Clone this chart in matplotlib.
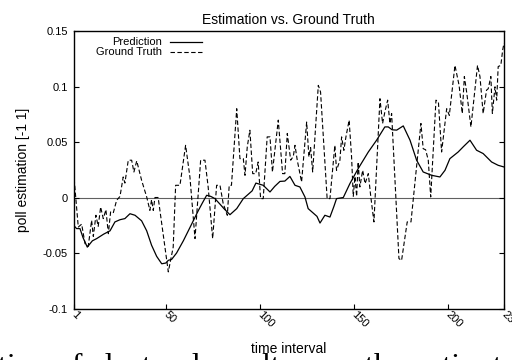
import matplotlib
matplotlib.use("Agg")
import matplotlib.pyplot as plt

plt.rcParams['font.family'] = ['Liberation Sans', 'DejaVu Sans']

# model output (smooth curve)
pred_t = [1, 2.6, 4.4, 6, 8.3, 11, 13.3, 17, 20.4, 23, 25.7, 28.3, 31, 33.7,
          37.2, 39.9, 42.5, 45.2, 47.9, 50.1, 51.4, 53.2, 55.8, 59.4, 63.8,
          67.3, 69.5, 71.8, 74, 76.2, 78.9, 81, 84.2, 87.8, 91.3, 94, 96, 98,
          101.9, 105.5, 108, 110.8, 113.4, 116.1, 118.8, 121.4, 124.1, 125.8,
          128.5, 130.5, 132.1, 134.7, 137.4, 139.5, 140.9, 144.5, 148, 152.4,
          157.8, 162.2, 166.6, 168.4, 170.5, 172.9, 176.4, 180, 183.5, 187,
          191.5, 195.9, 198.6, 201.2, 205.6, 208.5, 211.9, 215.4, 218.9,
          223.4, 226.9, 230]
pred_v = [-0.025, -0.028, -0.028, -0.036, -0.0447, -0.039, -0.037, -0.033,
          -0.030, -0.022, -0.020, -0.019, -0.0146, -0.016, -0.021, -0.030,
          -0.043, -0.053, -0.0597, -0.059, -0.0566, -0.0557, -0.050, -0.039,
          -0.024, -0.012, -0.005, 0.002, 0.001, -0.001, -0.006, -0.010,
          -0.0155, -0.010, -0.001, 0.003, 0.006, 0.013, 0.011, 0.005, 0.010,
          0.0145, 0.0148, 0.019, 0.011, 0.0095, 0.0005, -0.010, -0.014,
          -0.017, -0.023, -0.016, -0.0176, -0.008, -0.001, 0.000, 0.0125,
          0.026, 0.041, 0.0516, 0.0636, 0.0636, 0.061, 0.0607, 0.0645,
          0.0516, 0.0336, 0.023, 0.020, 0.0185, 0.0245, 0.035, 0.041, 0.046,
          0.0516, 0.0426, 0.0396, 0.032, 0.029, 0.0275]

# measured poll values
truth_t = [1, 3.5, 5.3, 7.1, 8.8, 10.6, 11.5, 12.9, 14.1, 15.4, 16.8, 18.2,
           19.5, 20.7, 22.1, 23.9, 25.7, 27.4, 28.3, 30.1, 31.9, 33.1, 34.6,
           37.2, 39.9, 41.6, 42.5, 43.4, 44.3, 46, 47.9, 49.6, 51.4, 54, 55.3,
           57.6, 60.6, 62.9, 65.6, 68.6, 70.9, 72.6, 75, 77.1, 78.9, 80.6,
           82.8, 83.8, 85, 87.8, 89.5, 91.3, 92.2, 93.4, 94.8, 96.3, 97.9,
           99.2, 100.5, 101.9, 104, 105.5, 106.8, 109.9, 112.2, 113.4, 114.7,
           116.5, 117.9, 118.8, 120, 122.3, 125, 126.2, 127.1, 128.2, 131.2,
           132.4, 135.9, 137.4, 140, 140.9, 142.7, 143.6, 144.8, 145.9, 147.6,
           148.9, 149.8, 150.7, 151.6, 152.4, 153.3, 154.8, 156.1, 157.8,
           159.1, 160.8, 164, 165.4, 166.6, 168.1, 169.3, 170.2, 171, 174.1,
           175.5, 178.5, 180.5, 185.8, 187, 188.3, 189.7, 191, 193.8, 195.1,
           196.8, 199.5, 200.9, 203.9, 206.1, 207.8, 208.9, 210.2, 212.4,
           215.9, 217.2, 218.9, 220.7, 221.6, 223, 223.8, 225.2, 226.1, 226.9,
           228.3, 229.3, 230]
truth_v = [0.023, -0.0266, -0.024, -0.0416, -0.044, -0.0206, -0.035, -0.016,
           -0.026, -0.0086, -0.019, -0.011, -0.0326, -0.013, -0.014, -0.0025,
           0.001, 0.0185, 0.013, 0.0336, 0.0336, 0.023, 0.033, 0.0155, 0.0005,
           -0.0116, -0.002, -0.0116, 0.0, 0.0, -0.0236, -0.0447, -0.067,
           -0.0447, 0.011, 0.011, 0.047, 0.0185, -0.037, 0.0336, 0.0336,
           0.0095, -0.037, 0.011, 0.011, -0.0055, -0.016, 0.011, 0.011, 0.080,
           0.035, 0.035, 0.02, 0.0455, 0.0606, 0.0215, 0.0215, 0.032, -0.001,
           -0.001, 0.0546, 0.0546, 0.023, 0.0697, 0.0215, 0.0215, 0.0577,
           0.0336, 0.037, 0.047, 0.0336, 0.014, 0.068, 0.0366, 0.045, 0.023,
           0.101, 0.095, -0.001, -0.001, 0.047, 0.0245, 0.0336, 0.0546, 0.0425,
           0.0546, 0.0697, 0.0366, 0.001, 0.019, 0.001, 0.032, 0.0095, 0.0245,
           0.0125, 0.0215, 0.001, -0.022, 0.089, 0.0667, 0.077, 0.0877, 0.0667,
           0.0757, 0.0486, -0.055, -0.0567, -0.022, -0.022, 0.0667, 0.044,
           0.043, 0.0336, 0.0005, 0.0877, 0.086, 0.041, 0.080, 0.074, 0.119,
           0.101, 0.0757, 0.109, 0.094, 0.0636, 0.119, 0.109, 0.0757, 0.0967,
           0.098, 0.109, 0.0757, 0.0997, 0.0877, 0.118, 0.119, 0.133, 0.139]

x_ticks = [1, 50, 100, 150, 200, 230]
y_ticks = [-0.1, -0.05, 0, 0.05, 0.1, 0.15]
y_tick_labels = ['-0.1', '-0.05', '0', '0.05', '0.1', '0.15']

fig = plt.figure(figsize=(5.12, 3.6), dpi=100)
ax = fig.add_axes([0.1437, 0.143, 0.8407, 0.7709])

ax.axhline(0, color='#606060', lw=0.8, zorder=1)
ax.plot(pred_t, pred_v, color='black', lw=0.9, zorder=3)
ax.plot(truth_t, truth_v, color='black', lw=0.8, dashes=(4, 2.2), zorder=2)

ax.set_xlim(1, 230)
ax.set_ylim(-0.1, 0.15)
ax.set_xticks(x_ticks)
ax.set_xticklabels([str(t) for t in x_ticks], fontsize=8)
ax.set_yticks(y_ticks)
ax.set_yticklabels(y_tick_labels, fontsize=8)
ax.tick_params(direction='in', length=3.5, width=0.8, right=True, pad=4)
ax.tick_params(axis='x', pad=3)
for lab in ax.get_xticklabels():
    lab.set_rotation(-45)
    lab.set_ha('left')
    lab.set_va('center')
    lab.set_rotation_mode('anchor')
for s in ax.spines.values():
    s.set_linewidth(1.0)

ax.set_title('Estimation vs. Ground Truth', fontsize=10, pad=5)
ax.set_ylabel('poll estimation [-1 1]', fontsize=10, labelpad=9)
fig.text(0.5635, 0.03, 'time interval', fontsize=10, ha='center', va='center')

# key in the upper left corner
ax.text(0.2054, 0.9614, 'Prediction', transform=ax.transAxes, fontsize=8,
        ha='right', va='center')
ax.text(0.2054, 0.9232, 'Ground Truth', transform=ax.transAxes, fontsize=8,
        ha='right', va='center')
ax.plot([0.224, 0.298], [0.9614, 0.9614], transform=ax.transAxes,
        color='black', lw=0.9)
ax.plot([0.224, 0.298], [0.9232, 0.9232], transform=ax.transAxes,
        color='black', lw=0.8, dashes=(4, 2.2))

# running caption from the page below the figure
fig.text(-0.004, -0.041, 'tion of electoral results over the entire t',
         fontsize=23, family='Liberation Serif', ha='left', va='baseline')

fig.savefig('out.png', dpi=100)
